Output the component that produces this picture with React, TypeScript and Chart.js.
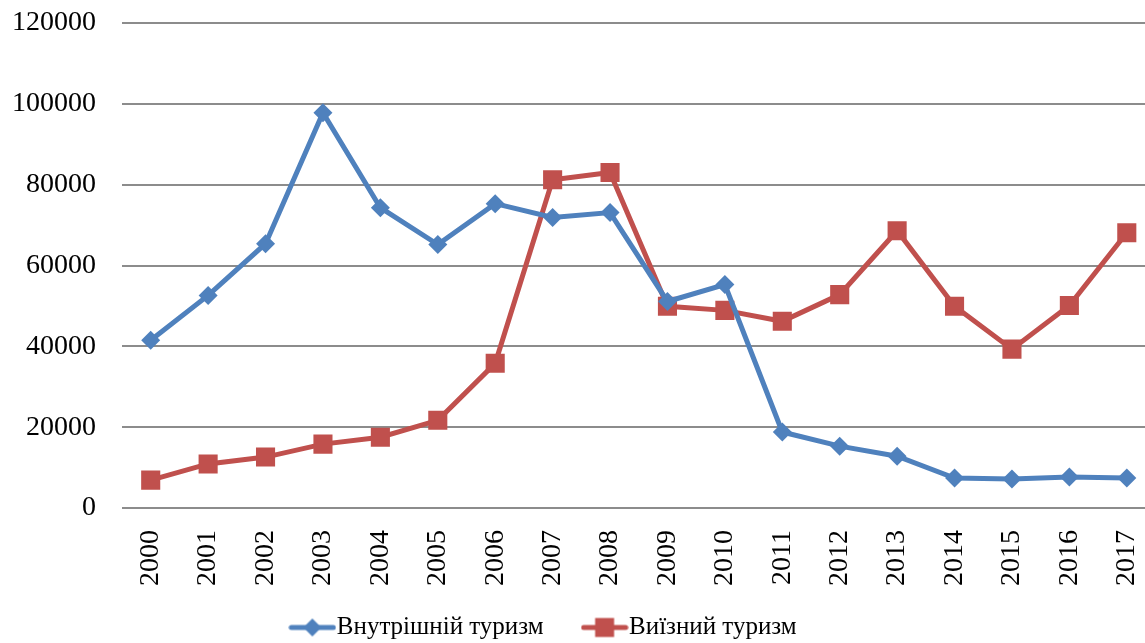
import { useEffect, useRef } from "react";
import { Chart, registerables } from "chart.js";

Chart.register(...registerables);

const years = [
  "2000", "2001", "2002", "2003", "2004", "2005", "2006", "2007", "2008",
  "2009", "2010", "2011", "2012", "2013", "2014", "2015", "2016", "2017",
];
const domestic = [
  41500, 52600, 65400, 97800, 74300, 65200, 75300, 71900, 73100,
  51100, 55300, 18800, 15300, 12800, 7400, 7200, 7700, 7400,
];
const outbound = [
  6900, 10900, 12600, 15800, 17500, 21700, 35800, 81200, 83000,
  49900, 48900, 46200, 52800, 68600, 49900, 39300, 50100, 68100,
];
const seriesNames = ["Внутрішній туризм", "Виїзний туризм"];
const yMin = 0;
const yMax = 120000;
const yStep = 20000;

const BLUE = "#4F81BD";
const RED = "#C0504D";
const FONT = "'Liberation Serif', 'Times New Roman', serif";

function makeIcon(color: string, shape: "diamond" | "square") {
  const c = document.createElement("canvas");
  c.width = 48;
  c.height = 22;
  const ctx = c.getContext("2d")!;
  ctx.strokeStyle = color;
  ctx.lineWidth = 5;
  ctx.lineCap = "round";
  ctx.beginPath();
  ctx.moveTo(3, 11);
  ctx.lineTo(45, 11);
  ctx.stroke();
  ctx.fillStyle = color;
  ctx.beginPath();
  if (shape === "diamond") {
    ctx.moveTo(24, 2);
    ctx.lineTo(33, 11);
    ctx.lineTo(24, 20);
    ctx.lineTo(15, 11);
    ctx.closePath();
  } else {
    ctx.rect(14.5, 1.5, 19, 19);
  }
  ctx.fill();
  return c;
}

export default function App() {
  const ref = useRef<HTMLCanvasElement>(null);
  useEffect(() => {
    const icons = [makeIcon(BLUE, "diamond"), makeIcon(RED, "square")];
    const legendShift = {
      id: "legendShift",
      afterLayout(chart: any) {
        if (chart.legend) {
          chart.legend.left -= 42;
          chart.legend.right -= 42;
          chart.legend.top -= 22;
          chart.legend.bottom -= 22;
        }
      },
    };
    const chart = new Chart(ref.current!, {
      type: "line",
      data: {
        labels: years,
        datasets: [
          {
            label: seriesNames[0],
            data: domestic,
            borderColor: BLUE,
            backgroundColor: BLUE,
            borderWidth: 5,
            pointStyle: "rectRot",
            pointRadius: 9.5,
            pointHoverRadius: 9.5,
            pointBorderWidth: 0,
            tension: 0,
          },
          {
            label: seriesNames[1],
            data: outbound,
            borderColor: RED,
            backgroundColor: RED,
            borderWidth: 5,
            pointStyle: "rect",
            pointRadius: 13.5,
            pointHoverRadius: 13.5,
            pointBorderWidth: 0,
            tension: 0,
          },
        ],
      },
      options: {
        animation: false,
        responsive: true,
        maintainAspectRatio: false,
        layout: { padding: { left: 12, top: 0, right: 0, bottom: -29 } },
        plugins: {
          tooltip: { enabled: false },
          legend: {
            position: "bottom",
            labels: {
              usePointStyle: true,
              pointStyleWidth: 24,
              padding: 49,
              color: "#000",
              font: { family: FONT, size: 25 },
              generateLabels: (ch: any) =>
                ch.data.datasets.map((d: any, i: number) => ({
                  text: d.label,
                  pointStyle: icons[i],
                  fillStyle: d.backgroundColor,
                  strokeStyle: d.borderColor,
                  lineWidth: 0,
                  hidden: false,
                  datasetIndex: i,
                  fontColor: "#000",
                })),
            },
          },
        },
        scales: {
          x: {
            offset: true,
            grid: { display: false },
            border: { display: false },
            afterFit: (scale: any) => {
              scale.height = 80;
              scale.paddingLeft = 0;
              scale.paddingRight = 0;
            },
            ticks: {
              autoSkip: false,
              maxRotation: 90,
              minRotation: 90,
              padding: 14,
              color: "#000",
              font: { family: FONT, size: 28 },
            },
          },
          y: {
            min: yMin,
            max: yMax,
            grid: { color: "#8c8c8c", lineWidth: 2, drawTicks: false },
            border: { display: false },
            afterFit: (scale: any) => {
              scale.width -= 26;
              scale.paddingTop = 23;
              scale.paddingBottom = 0;
            },
            ticks: {
              stepSize: yStep,
              padding: 26,
              color: "#000",
              font: { family: FONT, size: 28 },
              callback: (v: any) => String(v),
            },
          },
        },
      },
      plugins: [legendShift],
    });
    return () => chart.destroy();
  }, []);
  return (
    <div
      style={{
        position: "fixed",
        left: 0,
        top: 0,
        width: 1145,
        height: 643,
        overflow: "hidden",
        background: "#fff",
      }}
    >
      <div style={{ position: "relative", width: 1169, height: 643 }}>
        <canvas ref={ref} />
      </div>
    </div>
  );
}
